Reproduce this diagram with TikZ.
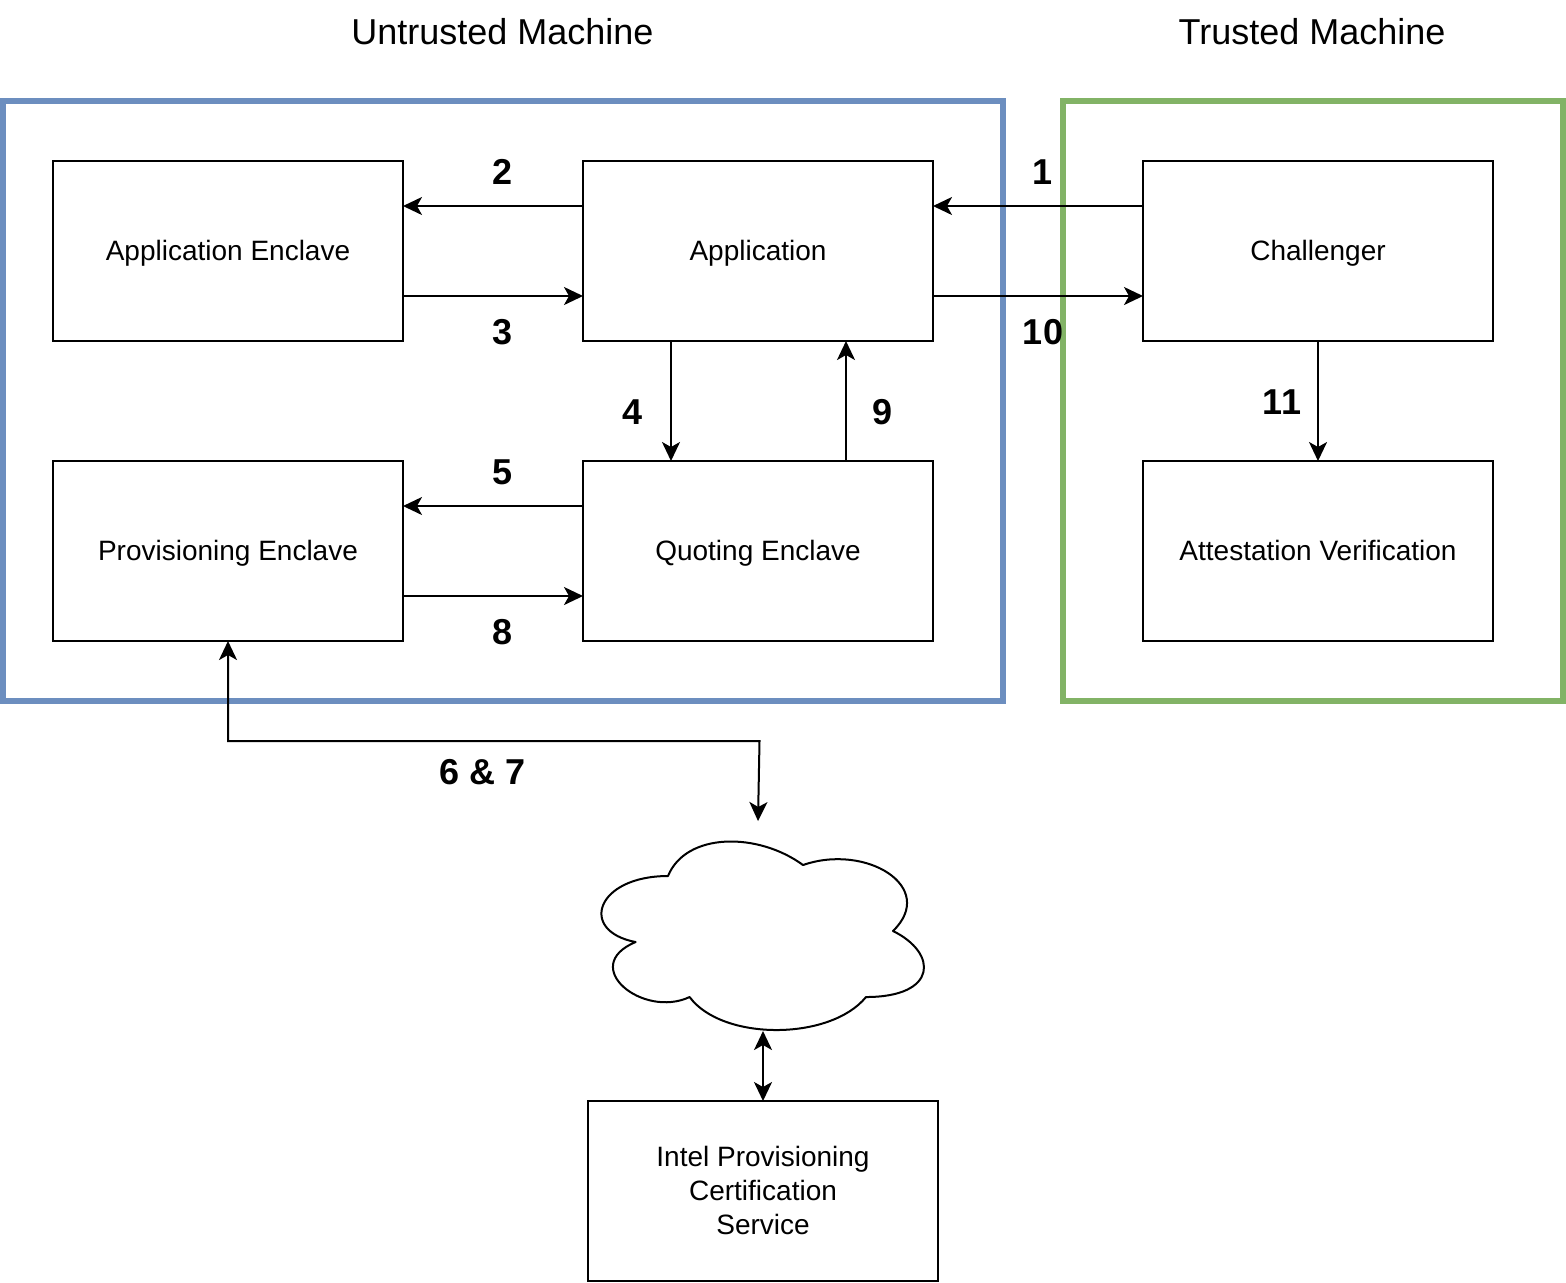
\documentclass[tikz,border=0pt]{standalone}
\usepackage{fontspec}
\setmainfont{Liberation Sans}
\usetikzlibrary{arrows.meta}

\tikzset{
  box/.style={draw, line width=1pt, minimum width=175pt, minimum height=90pt, outer sep=0pt,
    align=center, inner sep=0pt, font=\fontsize{14}{17}\selectfont},
  onebox/.style={box, text height=12pt, text depth=3pt},
  frame/.style={line width=3pt},
  title/.style={font=\fontsize{18}{22}\selectfont},
  num/.style={font=\fontsize{18}{22}\selectfont\bfseries},
  conn/.style={line width=1pt, -{Stealth[length=9.5pt,width=9pt,inset=2.5pt]}},
  biconn/.style={line width=1pt, {Stealth[length=9.5pt,width=9pt,inset=2.5pt]}-{Stealth[length=9.5pt,width=9pt,inset=2.5pt]}}
}

\begin{document}
\begin{tikzpicture}[x=0.5pt, y=-0.5pt]
  \useasboundingbox (0,0) rectangle (1566,1282);

  % Machine frames
  \draw[frame, color={rgb,255:red,108;green,142;blue,191}] (3,101) rectangle (1003,701);
  \draw[frame, color={rgb,255:red,130;green,179;blue,102}] (1063,101) rectangle (1563,701);
  \node[title] (untrusted) at (502.5,32) {Untrusted Machine};
  \node[title] (trusted) at (1312,32) {Trusted Machine};

  % Boxes
  \node[onebox] (appenclave) at (228,251) {Application Enclave};
  \node[onebox] (application) at (758,251) {Application};
  \node[onebox] (challenger) at (1318,251) {Challenger};
  \node[onebox] (provenclave) at (228,551) {Provisioning Enclave};
  \node[onebox] (quoting) at (758,551) {Quoting Enclave};
  \node[onebox] (verification) at (1318,551) {Attestation Verification};
  \node[box, text depth=1pt] (intel) at (763,1191) {Intel Provisioning\\Certification\\Service};

  % Cloud
  \def\cx{578}
  \def\cy{821}
  \def\cw{360}
  \def\ch{220}
  \draw[line width=1pt, line join=round]
    (\cx+0.25*\cw,\cy+0.25*\ch)
    .. controls (\cx+0.05*\cw,\cy+0.25*\ch) and (\cx,\cy+0.5*\ch) .. (\cx+0.16*\cw,\cy+0.55*\ch)
    .. controls (\cx,\cy+0.66*\ch) and (\cx+0.18*\cw,\cy+0.9*\ch) .. (\cx+0.31*\cw,\cy+0.8*\ch)
    .. controls (\cx+0.4*\cw,\cy+\ch) and (\cx+0.7*\cw,\cy+\ch) .. (\cx+0.8*\cw,\cy+0.8*\ch)
    .. controls (\cx+\cw,\cy+0.8*\ch) and (\cx+\cw,\cy+0.6*\ch) .. (\cx+0.875*\cw,\cy+0.5*\ch)
    .. controls (\cx+\cw,\cy+0.3*\ch) and (\cx+0.8*\cw,\cy+0.1*\ch) .. (\cx+0.625*\cw,\cy+0.2*\ch)
    .. controls (\cx+0.5*\cw,\cy+0.05*\ch) and (\cx+0.3*\cw,\cy+0.05*\ch) .. (\cx+0.25*\cw,\cy+0.25*\ch)
    -- cycle;
  \coordinate (cloudtop) at (758,821);
  \coordinate (cloudbottom) at (763,1031);
  \coordinate (bendleft) at (228,741);
  \coordinate (bendright) at (759.5,741);

  % Connectors
  \draw[conn] ([yshift=22.5pt]application.west) -- ([yshift=22.5pt]appenclave.east);
  \draw[conn] ([yshift=-22.5pt]appenclave.east) -- ([yshift=-22.5pt]application.west);
  \draw[conn] ([yshift=22.5pt]challenger.west) -- ([yshift=22.5pt]application.east);
  \draw[conn] ([yshift=-22.5pt]application.east) -- ([yshift=-22.5pt]challenger.west);
  \draw[conn] ([xshift=-43.5pt]application.south) -- ([xshift=-43.5pt]quoting.north);
  \draw[conn] ([xshift=44pt]quoting.north) -- ([xshift=44pt]application.south);
  \draw[conn] ([yshift=22.5pt]quoting.west) -- ([yshift=22.5pt]provenclave.east);
  \draw[conn] ([yshift=-22.5pt]provenclave.east) -- ([yshift=-22.5pt]quoting.west);
  \draw[conn] (challenger) -- (verification);
  \draw[biconn] (intel.north) -- (cloudbottom);
  \draw[biconn] (provenclave.south) -- (bendleft) -- (bendright) -- (cloudtop);

  % Step numbers
  \node[num] (n1) at (1042,172) {1};
  \node[num] (n2) at (503,172) {2};
  \node[num] (n3) at (503,332) {3};
  \node[num] (n4) at (632,412) {4};
  \node[num] (n5) at (503,472) {5};
  \node[num] (n67) at (483,772) {6 \& 7};
  \node[num] (n8) at (503,632) {8};
  \node[num] (n9) at (882,412) {9};
  \node[num] (n10) at (1043,332) {10};
  \node[num] (n11) at (1282,402) {11};
\end{tikzpicture}
\end{document}
